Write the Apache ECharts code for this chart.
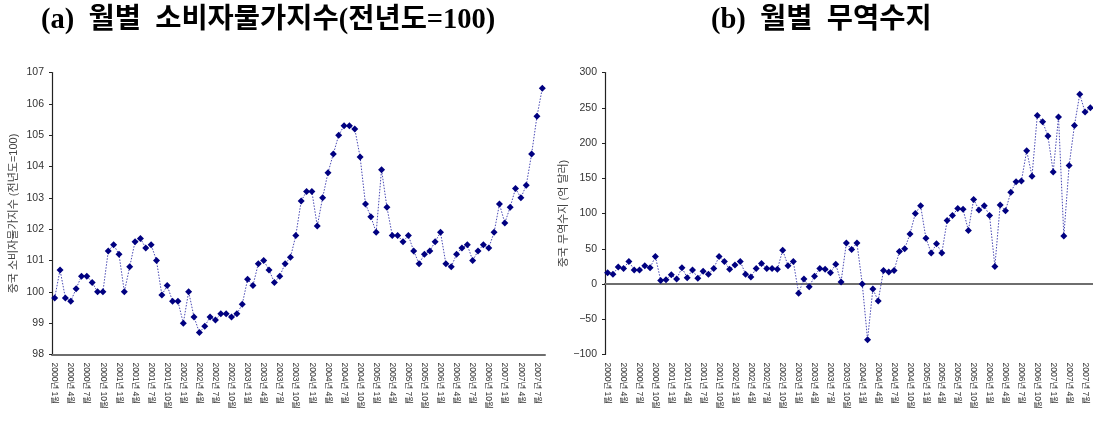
<!DOCTYPE html>
<html>
<head>
<meta charset="utf-8">
<script src="https://cdn.jsdelivr.net/npm/echarts@6/dist/echarts.min.js"></script>
<style>
html,body{margin:0;padding:0;background:#fff;}
#chart{width:1093px;height:430px;}
</style>
</head>
<body>
<div id="chart"></div>
<script>
// Months: 2000-01 .. 2007-08
const years = [2000, 2001, 2002, 2003, 2004, 2005, 2006, 2007];
const lastMonth = 8;
const categories = [];
years.forEach(function (y) {
  for (let m = 1; m <= 12; m++) {
    if (y === 2007 && m > lastMonth) break;
    categories.push(y + '년 ' + m + '월');
  }
});

// (a) China CPI (previous year = 100)
const cpi = [
  99.8, 100.7, 99.8, 99.7, 100.1, 100.5, 100.5, 100.3, 100.0, 100.0, 101.3, 101.5,
  101.2, 100.0, 100.8, 101.6, 101.7, 101.4, 101.5, 101.0, 99.9, 100.2, 99.7, 99.7,
  99.0, 100.0, 99.2, 98.7, 98.9, 99.2, 99.1, 99.3, 99.3, 99.2, 99.3, 99.6,
  100.4, 100.2, 100.9, 101.0, 100.7, 100.3, 100.5, 100.9, 101.1, 101.8, 102.9, 103.2,
  103.2, 102.1, 103.0, 103.8, 104.4, 105.0, 105.3, 105.3, 105.2, 104.3, 102.8, 102.4,
  101.9, 103.9, 102.7, 101.8, 101.8, 101.6, 101.8, 101.3, 100.9, 101.2, 101.3, 101.6,
  101.9, 100.9, 100.8, 101.2, 101.4, 101.5, 101.0, 101.3, 101.5, 101.4, 101.9, 102.8,
  102.2, 102.7, 103.3, 103.0, 103.4, 104.4, 105.6, 106.5
];

// (b) China trade balance (100 million USD)
const trade = [
  16, 14, 24, 22, 32, 20, 20, 26, 23, 39, 5, 6,
  13, 7, 23, 9, 20, 8, 18, 14, 22, 39, 32, 21,
  27, 32, 14, 10, 22, 29, 22, 22, 21, 48, 26, 32,
  -13, 7, -4, 11, 22, 21, 16, 28, 3, 58, 49, 58,
  0, -79, -7, -24, 19, 17, 19, 46, 50, 71, 100, 111,
  65, 44, 57, 44, 90, 97, 107, 106, 76, 120, 105, 111,
  97, 25, 112, 104, 130, 145, 146, 189, 153, 239, 230, 210,
  159, 237, 68, 168, 225, 269, 244, 250
];

const titleA = '(a)  월별  소비자물가지수(전년도=100)';
const titleB = '(b)  월별  무역수지';
const yNameA = '중국 소비자물가지수 (전년도=100)';
const yNameB = '중국 무역수지 (억 달러)';

const sansFont = "'Liberation Sans', 'Noto Sans CJK KR', sans-serif";
const titleFont = "'Liberation Serif', 'Noto Sans CJK KR', serif";
const labelColor = '#333';
const axisDark = '#222';
const axisGray = '#6e6e6e';

const xLabel = {
  interval: 2,
  rotate: -90,
  fontSize: 8.5,
  color: labelColor,
  fontFamily: sansFont,
  padding: [5, 0, 0, 0]
};

function seriesOf(data, xi, yi) {
  return {
    type: 'line',
    xAxisIndex: xi,
    yAxisIndex: yi,
    data: data,
    symbol: 'diamond',
    symbolSize: 7,
    showAllSymbol: true,
    itemStyle: { color: '#000080' },
    lineStyle: { color: '#4848b4', width: 1, type: [1.5, 1.5] },
    animation: false
  };
}

const titleStyle = { fontFamily: titleFont, fontWeight: 'bold', fontSize: 28.5, color: '#000' };

const chart = echarts.init(document.getElementById('chart'), null, { renderer: 'canvas' });
chart.setOption({
  backgroundColor: '#fff',
  animation: false,
  title: [
    { text: titleA, left: 41, top: 6, padding: 0, textStyle: titleStyle },
    { text: titleB, left: 711, top: 6, padding: 0, textStyle: titleStyle }
  ],
  grid: [
    { left: 52, top: 72.5, width: 493, height: 282 },
    { left: 605, top: 72.5, width: 490, height: 282 }
  ],
  xAxis: [
    { // left chart
      type: 'category', gridIndex: 0, data: categories, boundaryGap: true,
      axisLine: { onZero: false, lineStyle: { color: axisGray, width: 2 } },
      axisTick: { interval: 2, inside: true, length: 4, lineStyle: { color: axisDark, width: 1 } },
      axisLabel: Object.assign({}, xLabel, { margin: 8 })
    },
    { // right chart: tick labels along the bottom edge
      type: 'category', gridIndex: 1, data: categories, boundaryGap: true, position: 'bottom',
      axisLine: { show: false, onZero: false },
      axisTick: { show: false },
      axisLabel: Object.assign({}, xLabel, { margin: 8 })
    },
    { // right chart: zero line, downward half of the crossing ticks
      type: 'category', gridIndex: 1, data: categories, boundaryGap: true, position: 'bottom',
      axisLine: { onZero: true, onZeroAxisIndex: 1, lineStyle: { color: axisGray, width: 2 } },
      axisTick: { interval: 2, length: 4, lineStyle: { color: axisDark, width: 1 } },
      axisLabel: { show: false }
    },
    { // right chart: upward half of the crossing ticks
      type: 'category', gridIndex: 1, data: categories, boundaryGap: true, position: 'top',
      axisLine: { onZero: true, onZeroAxisIndex: 1, lineStyle: { color: axisGray, width: 2 } },
      axisTick: { interval: 2, length: 4, lineStyle: { color: axisDark, width: 1 } },
      axisLabel: { show: false }
    }
  ],
  yAxis: [
    {
      type: 'value', gridIndex: 0, min: 98, max: 107, interval: 1,
      name: yNameA, nameLocation: 'middle', nameGap: 33,
      nameTextStyle: { fontSize: 11, color: '#444', fontFamily: sansFont },
      axisLine: { show: true, lineStyle: { color: axisDark, width: 1.2 } },
      axisTick: { show: true, length: 3, lineStyle: { color: axisDark } },
      axisLabel: { fontSize: 10.5, color: labelColor, fontFamily: sansFont, margin: 8 },
      splitLine: { show: false }
    },
    {
      type: 'value', gridIndex: 1, min: -100, max: 300, interval: 50,
      name: yNameB, nameLocation: 'middle', nameGap: 30,
      nameTextStyle: { fontSize: 11, color: '#444', fontFamily: sansFont },
      axisLine: { show: true, lineStyle: { color: axisDark, width: 1.2 } },
      axisTick: { show: true, length: 3, lineStyle: { color: axisDark } },
      axisLabel: { fontSize: 10.5, color: labelColor, fontFamily: sansFont, margin: 8,
        formatter: function (v) { return v < 0 ? '\u2212' + Math.abs(v) : String(v); } },
      splitLine: { show: false }
    }
  ],
  series: [
    seriesOf(cpi, 0, 0),
    seriesOf(trade, 1, 1)
  ]
});
</script>
</body>
</html>
